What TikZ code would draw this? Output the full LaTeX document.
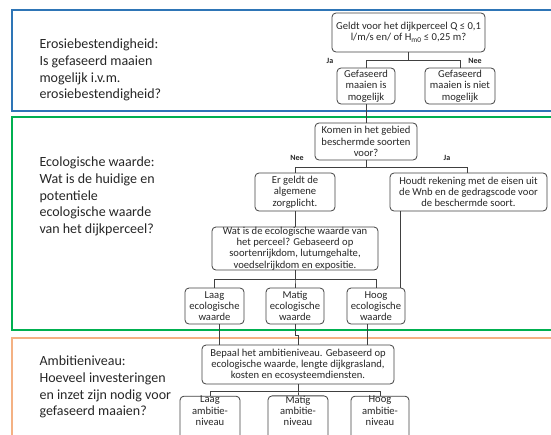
\documentclass[tikz,border=0pt]{standalone}
\usepackage{fontspec}
\setmainfont{Carlito}
\definecolor{erosieblue}{RGB}{46,117,182}
\definecolor{ecogreen}{RGB}{0,176,80}
\definecolor{ambitieorange}{RGB}{244,177,131}
\definecolor{lijngrijs}{RGB}{64,64,64}

\begin{document}
\begin{tikzpicture}[x=1pt,y=-1pt,
  box/.style={draw=lijngrijs,line width=0.8pt,rounded corners=4pt,align=center,inner sep=0pt,
    font=\fontsize{10.6}{11.3}\selectfont,text=black!85},
  lbl/.style={font=\fontsize{8}{9}\selectfont\bfseries,text=black!85},
  side/.style={anchor=west,align=left,font=\fontsize{14}{16.7}\selectfont,text=black!85},
  band/.style={line width=2pt},
  tree/.style={draw=lijngrijs,line width=0.8pt}]
  \clip (0,0) rectangle (551,434);

  % panels
  \draw[band,erosieblue]    (11.7,10)  rectangle (570,111);
  \draw[band,ecogreen]      (11.7,117) rectangle (570,330);
  \draw[band,ambitieorange] (11.7,338) rectangle (570,470);

  \node[side] (erosie)  at (36,70)    {Erosiebestendigheid:\\Is gefaseerd maaien\\mogelijk i.v.m.\\erosiebestendigheid?};
  \node[side] (ecologie) at (36,196.5) {Ecologische waarde:\\Wat is de huidige en\\potentiele\\ecologische waarde\\van het dijkperceel?};
  \node[side] (ambitie) at (36,387)   {Ambitieniveau:\\Hoeveel investeringen\\en inzet zijn nodig voor\\gefaseerd maaien?};

  % boxes
  \node[box,minimum width=153pt,minimum height=39pt] (q)    at (408.5,32.5) {Geldt voor het dijkperceel Q ≤ 0,1\\l/m/s en/ of H\textsubscript{m0} ≤ 0,25 m?};
  \node[box,minimum width=58pt,minimum height=36pt]  (ja1)  at (366,86)    {Gefaseerd\\maaien is\\mogelijk};
  \node[box,minimum width=70pt,minimum height=36pt]  (nee1) at (460,86)    {Gefaseerd\\maaien is niet\\mogelijk};
  \node[box,minimum width=102pt,minimum height=37pt] (komen) at (366,141.5) {Komen in het gebied\\beschermde soorten\\voor?};
  \node[box,minimum width=80pt,minimum height=38pt]  (zorg) at (295,192)   {Er geldt de\\algemene\\zorgplicht.};
  \node[box,minimum width=157pt,minimum height=38pt] (wnb)  at (468.5,192) {Houdt rekening met de eisen uit\\de Wnb en de gedragscode voor\\de beschermde soort.};
  \node[box,minimum width=166pt,minimum height=43pt] (wat)  at (295,248.5) {Wat is de ecologische waarde van\\het perceel? Gebaseerd op\\soortenrijkdom, lutumgehalte,\\voedselrijkdom en expositie.};
  \node[box,minimum width=59pt,minimum height=36pt]  (elaag)  at (214.5,306) {Laag\\ecologische\\waarde};
  \node[box,minimum width=58pt,minimum height=36pt]  (ematig) at (295,306)   {Matig\\ecologische\\waarde};
  \node[box,minimum width=58pt,minimum height=36pt]  (ehoog)  at (376,306)   {Hoog\\ecologische\\waarde};
  \node[box,minimum width=192pt,minimum height=39pt] (bepaal) at (298,364.5) {Bepaal het ambitieniveau. Gebaseerd op\\ecologische waarde, lengte dijkgrasland,\\kosten en ecosysteemdiensten.};
  \node[box,minimum width=60pt,minimum height=40pt]  (alaag)  at (210,418.5) {Laag\\ambitie-\\niveau\\[4pt]};
  \node[box,minimum width=60pt,minimum height=40pt]  (amatig) at (298,418.5) {Matig\\ambitie-\\niveau\\[4pt]};
  \node[box,minimum width=58pt,minimum height=40pt]  (ahoog)  at (380,418.5) {Hoog\\ambitie-\\niveau\\[4pt]};

  % connectors
  \draw[tree] (q.south) -- ++(0,8) -| (ja1.north);
  \draw[tree] (q.south) -- ++(0,8) -| (nee1.north);
  \draw[tree] (ja1.south) -- (komen.north);
  \draw[tree] (komen.south) -- ++(0,7) -| (zorg.north);
  \draw[tree] (komen.south) -- ++(0,7) -| ([xshift=-1.5pt]wnb.north);
  \draw[tree] (zorg.south) -- (wat.north);
  \draw[tree] ([xshift=-5pt]ehoog.north east) -- ([xshift=-5pt]ehoog.north east |- wnb.south);
  \draw[tree] (wat.south) -- ++(0,9) -| (elaag.north);
  \draw[tree] (wat.south) -- ++(0,9) -| (ematig.north);
  \draw[tree] (wat.south) -- ++(0,9) -| (ehoog.north);
  \draw[tree] ([xshift=4.5pt]elaag.south) -- ([xshift=4.5pt]elaag.south |- bepaal.north);
  \draw[tree] (ematig.south) -- ++(0,11) -| (bepaal.north);
  \draw[tree] ([xshift=-9pt]ehoog.south) -- ([xshift=-9pt]ehoog.south |- bepaal.north);
  \draw[tree] (bepaal.south) -- ++(0,7) -| (alaag.north);
  \draw[tree] (bepaal.south) -- ++(0,7) -| (amatig.north);
  \draw[tree] (bepaal.south) -- ++(0,7) -| (ahoog.north);

  % labels
  \node[lbl] (ja1lbl)  at (330,60.5) {Ja};
  \node[lbl] (nee1lbl) at (475,60.5) {Nee};
  \node[lbl] (nee2lbl) at (297,158)  {Nee};
  \node[lbl] (ja2lbl)  at (447,158)  {Ja};
\end{tikzpicture}
\end{document}
